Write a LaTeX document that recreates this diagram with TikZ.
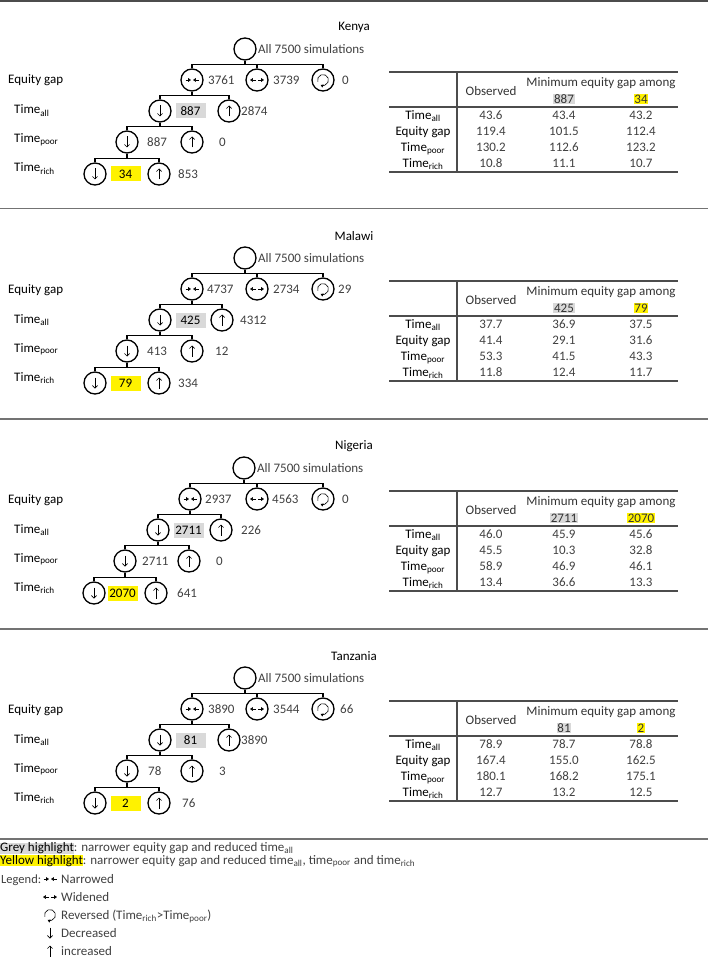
\documentclass[tikz,border=0pt]{standalone}
\usepackage{fontspec}
\setmainfont{Carlito}
\usepackage{xcolor}
\usepackage{tikz}
\usetikzlibrary{arrows.meta, calc, positioning}

\newcommand{\tall}{Time\textsubscript{all}}
\newcommand{\tpoor}{Time\textsubscript{poor}}
\newcommand{\trich}{Time\textsubscript{rich}}
\newcommand{\hlbox}[2]{{\setlength{\fboxsep}{0pt}\colorbox{#1}{#2}}}

\tikzset{
  sim/.style={circle, draw, line width=1.3pt, minimum size=22pt, inner sep=0pt},
  dec/.style={sim, path picture={\draw[line width=0.55pt, -{Straight Barb[length=2.6pt, width=5.2pt]}] ([yshift=5.5pt]path picture bounding box.center) -- ([yshift=-5.5pt]path picture bounding box.center);}},
  inc/.style={sim, path picture={\draw[line width=0.55pt, -{Straight Barb[length=2.6pt, width=5.2pt]}] ([yshift=-5.5pt]path picture bounding box.center) -- ([yshift=5.5pt]path picture bounding box.center);}},
  nar/.style={sim, path picture={
    \draw[line width=0.55pt, -{Triangle[length=2.8pt, width=3.6pt]}] ([xshift=-6.5pt]path picture bounding box.center) -- ([xshift=-1pt]path picture bounding box.center);
    \draw[line width=0.55pt, -{Triangle[length=2.8pt, width=3.6pt]}] ([xshift=6.5pt]path picture bounding box.center) -- ([xshift=1pt]path picture bounding box.center);}},
  wid/.style={sim, path picture={
    \draw[line width=0.55pt, -{Triangle[length=2.8pt, width=3.6pt]}] ([xshift=-1pt]path picture bounding box.center) -- ([xshift=-7pt]path picture bounding box.center);
    \draw[line width=0.55pt, -{Triangle[length=2.8pt, width=3.6pt]}] ([xshift=1pt]path picture bounding box.center) -- ([xshift=7pt]path picture bounding box.center);}},
  rev/.style={sim, path picture={\draw[line width=0.6pt, -{Triangle[length=2.6pt, width=3.2pt]}] ([shift={(200:5.5pt)}]path picture bounding box.center) arc[start angle=200, end angle=-115, radius=5.5pt];}},
  edgeline/.style={line width=1.3pt},
  num/.style={anchor=west, inner sep=0pt, text=black!75},
  greybox/.style={fill=gray!30, minimum width=30pt, minimum height=15pt, inner sep=0pt},
  yellowbox/.style={fill=yellow, minimum width=30pt, minimum height=15pt, inner sep=0pt},
  rowlab/.style={anchor=base west, inner sep=0pt},
  cname/.style={inner sep=0pt},
  tabrule/.style={line width=1.1pt, black!70},
  thead/.style={anchor=base, inner sep=0.8pt, text=black!80},
  tcell/.style={anchor=base, inner sep=0pt, text=black!75},
  sepline/.style={line width=1.4pt, black!55},
  legtext/.style={anchor=base west, inner sep=0pt, text=black!75}
}

\begin{document}
\begin{tikzpicture}[x=1pt, y=-1pt, font=\fontsize{13pt}{15.6pt}\selectfont]
  \useasboundingbox (0,0) rectangle (708,957);
  \draw[sepline, line width=2pt, black!70] (0,1) -- (708,1);
  \draw[sepline] (0,208.5) -- (708,208.5);
  \draw[sepline] (0,419) -- (708,419);
  \draw[sepline] (0,629) -- (708,629);
  \draw[sepline] (0,839) -- (708,839);

  % Kenya
  \begin{scope}[shift={(0,0)}]
    \node[cname] (k-name) at (354,27) {Kenya};
    \node[sim] (k-root) at (245,49) {};
    \node[num] (k-root-n) at (258,49) {All 7500 simulations};
    \node[nar] (k-nar) at (192,80) {};        \node[num] (k-nar-n) at (208,80) {3761};
    \node[wid] (k-wid) at (257,80) {};        \node[num] (k-wid-n) at (273,80) {3739};
    \node[rev] (k-rev) at (323,80) {};        \node[num] (k-rev-n) at (342,80) {0};
    \node[dec] (k-all-dec) at (160,111) {};   \node[greybox] (k-all-dec-n) at (190.5,111) {887};
    \node[inc] (k-all-inc) at (229,111) {};   \node[num] (k-all-inc-n) at (241,111) {2874};
    \node[dec] (k-poor-dec) at (127,142) {};  \node[num] (k-poor-dec-n) at (147,142) {887};
    \node[inc] (k-poor-inc) at (192,142) {};  \node[num] (k-poor-inc-n) at (219,142) {0};
    \node[dec] (k-rich-dec) at (95,174) {};   \node[yellowbox] (k-rich-dec-n) at (125.5,174) {34};
    \node[inc] (k-rich-inc) at (159,174) {};  \node[num] (k-rich-inc-n) at (178,174) {853};
    \foreach \c in {k-nar, k-wid, k-rev} \draw[edgeline] (\c.north) -- ++(0,-4) -| (k-root.south);
    \foreach \c in {k-all-dec, k-all-inc} \draw[edgeline] (\c.north) -- ++(0,-4) -| (k-nar.south);
    \foreach \c in {k-poor-dec, k-poor-inc} \draw[edgeline] (\c.north) -- ++(0,-4) -| (k-all-dec.south);
    \foreach \c in {k-rich-dec, k-rich-inc} \draw[edgeline] (\c.north) -- ++(0,-4) -| (k-poor-dec.south);
    \node[rowlab] (k-lab1) at (8,84) {Equity gap};
    \node[rowlab] (k-lab2) at (14,114) {\tall};
    \node[rowlab] (k-lab3) at (14,143) {\tpoor};
    \node[rowlab] (k-lab4) at (14,172) {\trich};
    \draw[tabrule] (389,72) -- (678,72) (389,107) -- (678,107) (389,172) -- (678,172) (457,72) -- (457,172);
    \node[thead] (k-h1) at (601,86.5) {Minimum equity gap among};
    \node[thead] (k-h2) at (491,95.5) {Observed};
    \node[thead, fill=gray!30] (k-h3) at (564,103.5) {887};
    \node[thead, fill=yellow] (k-h4) at (641,103.5) {34};
    \foreach \lab/\a/\b/\c [count=\i] in {\tall/43.6/43.4/43.2, Equity gap/119.4/101.5/112.4, \tpoor/130.2/112.6/123.2, \trich/10.8/11.1/10.7} {
      \node[tcell, text=black] (k-r\i) at (423,103.5+16*\i) {\lab};
      \node[tcell] (k-r\i-a) at (491,103.5+16*\i) {\a};
      \node[tcell] (k-r\i-b) at (564,103.5+16*\i) {\b};
      \node[tcell] (k-r\i-c) at (641,103.5+16*\i) {\c};
    }
  \end{scope}

  % Malawi
  \begin{scope}[shift={(0,209)}]
    \node[cname] (m-name) at (354,27) {Malawi};
    \node[sim] (m-root) at (245,49) {};
    \node[num] (m-root-n) at (258,49) {All 7500 simulations};
    \node[nar] (m-nar) at (192,80) {};        \node[num] (m-nar-n) at (207,80) {4737};
    \node[wid] (m-wid) at (257,80) {};        \node[num] (m-wid-n) at (273,80) {2734};
    \node[rev] (m-rev) at (323,80) {};        \node[num] (m-rev-n) at (338,80) {29};
    \node[dec] (m-all-dec) at (160,111) {};   \node[greybox] (m-all-dec-n) at (190.5,111) {425};
    \node[inc] (m-all-inc) at (222,111) {};   \node[num] (m-all-inc-n) at (240,111) {4312};
    \node[dec] (m-poor-dec) at (127,142) {};  \node[num] (m-poor-dec-n) at (147,142) {413};
    \node[inc] (m-poor-inc) at (192,142) {};  \node[num] (m-poor-inc-n) at (215,142) {12};
    \node[dec] (m-rich-dec) at (95,174) {};   \node[yellowbox] (m-rich-dec-n) at (125.5,174) {79};
    \node[inc] (m-rich-inc) at (159,174) {};  \node[num] (m-rich-inc-n) at (178,174) {334};
    \foreach \c in {m-nar, m-wid, m-rev} \draw[edgeline] (\c.north) -- ++(0,-4) -| (m-root.south);
    \foreach \c in {m-all-dec, m-all-inc} \draw[edgeline] (\c.north) -- ++(0,-4) -| (m-nar.south);
    \foreach \c in {m-poor-dec, m-poor-inc} \draw[edgeline] (\c.north) -- ++(0,-4) -| (m-all-dec.south);
    \foreach \c in {m-rich-dec, m-rich-inc} \draw[edgeline] (\c.north) -- ++(0,-4) -| (m-poor-dec.south);
    \node[rowlab] (m-lab1) at (8,84) {Equity gap};
    \node[rowlab] (m-lab2) at (14,114) {\tall};
    \node[rowlab] (m-lab3) at (14,143) {\tpoor};
    \node[rowlab] (m-lab4) at (14,172) {\trich};
    \draw[tabrule] (389,72) -- (678,72) (389,107) -- (678,107) (389,172) -- (678,172) (457,72) -- (457,172);
    \node[thead] (m-h1) at (601,86.5) {Minimum equity gap among};
    \node[thead] (m-h2) at (491,95.5) {Observed};
    \node[thead, fill=gray!30] (m-h3) at (564,103.5) {425};
    \node[thead, fill=yellow] (m-h4) at (641,103.5) {79};
    \foreach \lab/\a/\b/\c [count=\i] in {\tall/37.7/36.9/37.5, Equity gap/41.4/29.1/31.6, \tpoor/53.3/41.5/43.3, \trich/11.8/12.4/11.7} {
      \node[tcell, text=black] (m-r\i) at (423,103.5+16*\i) {\lab};
      \node[tcell] (m-r\i-a) at (491,103.5+16*\i) {\a};
      \node[tcell] (m-r\i-b) at (564,103.5+16*\i) {\b};
      \node[tcell] (m-r\i-c) at (641,103.5+16*\i) {\c};
    }
  \end{scope}

  % Nigeria
  \begin{scope}[shift={(0,419)}]
    \node[cname] (n-name) at (354,27) {Nigeria};
    \node[sim] (n-root) at (244,49) {};
    \node[num] (n-root-n) at (257,49) {All 7500 simulations};
    \node[nar] (n-nar) at (190,80) {};        \node[num] (n-nar-n) at (205,80) {2937};
    \node[wid] (n-wid) at (257,80) {};        \node[num] (n-wid-n) at (272,80) {4563};
    \node[rev] (n-rev) at (323,80) {};        \node[num] (n-rev-n) at (342,80) {0};
    \node[dec] (n-all-dec) at (158,111) {};   \node[greybox] (n-all-dec-n) at (188.5,111) {2711};
    \node[inc] (n-all-inc) at (221,111) {};   \node[num] (n-all-inc-n) at (241,111) {226};
    \node[dec] (n-poor-dec) at (125,142) {};  \node[num] (n-poor-dec-n) at (142,142) {2711};
    \node[inc] (n-poor-inc) at (189,142) {};  \node[num] (n-poor-inc-n) at (216,142) {0};
    \node[dec] (n-rich-dec) at (94,174) {};   \node[yellowbox] (n-rich-dec-n) at (122.5,174) {2070};
    \node[inc] (n-rich-inc) at (156,174) {};  \node[num] (n-rich-inc-n) at (177,174) {641};
    \foreach \c in {n-nar, n-wid, n-rev} \draw[edgeline] (\c.north) -- ++(0,-4) -| (n-root.south);
    \foreach \c in {n-all-dec, n-all-inc} \draw[edgeline] (\c.north) -- ++(0,-4) -| (n-nar.south);
    \foreach \c in {n-poor-dec, n-poor-inc} \draw[edgeline] (\c.north) -- ++(0,-4) -| (n-all-dec.south);
    \foreach \c in {n-rich-dec, n-rich-inc} \draw[edgeline] (\c.north) -- ++(0,-4) -| (n-poor-dec.south);
    \node[rowlab] (n-lab1) at (8,84) {Equity gap};
    \node[rowlab] (n-lab2) at (14,114) {\tall};
    \node[rowlab] (n-lab3) at (14,143) {\tpoor};
    \node[rowlab] (n-lab4) at (14,172) {\trich};
    \draw[tabrule] (389,72) -- (678,72) (389,107) -- (678,107) (389,172) -- (678,172) (457,72) -- (457,172);
    \node[thead] (n-h1) at (601,86.5) {Minimum equity gap among};
    \node[thead] (n-h2) at (491,95.5) {Observed};
    \node[thead, fill=gray!30] (n-h3) at (564,103.5) {2711};
    \node[thead, fill=yellow] (n-h4) at (641,103.5) {2070};
    \foreach \lab/\a/\b/\c [count=\i] in {\tall/46.0/45.9/45.6, Equity gap/45.5/10.3/32.8, \tpoor/58.9/46.9/46.1, \trich/13.4/36.6/13.3} {
      \node[tcell, text=black] (n-r\i) at (423,103.5+16*\i) {\lab};
      \node[tcell] (n-r\i-a) at (491,103.5+16*\i) {\a};
      \node[tcell] (n-r\i-b) at (564,103.5+16*\i) {\b};
      \node[tcell] (n-r\i-c) at (641,103.5+16*\i) {\c};
    }
  \end{scope}

  % Tanzania
  \begin{scope}[shift={(0,629)}]
    \node[cname] (t-name) at (354,27) {Tanzania};
    \node[sim] (t-root) at (245,49) {};
    \node[num] (t-root-n) at (258,49) {All 7500 simulations};
    \node[nar] (t-nar) at (192,80) {};        \node[num] (t-nar-n) at (208,80) {3890};
    \node[wid] (t-wid) at (257,80) {};        \node[num] (t-wid-n) at (273,80) {3544};
    \node[rev] (t-rev) at (323,80) {};        \node[num] (t-rev-n) at (340,80) {66};
    \node[dec] (t-all-dec) at (160,111) {};   \node[greybox] (t-all-dec-n) at (190.5,111) {81};
    \node[inc] (t-all-inc) at (229,111) {};   \node[num] (t-all-inc-n) at (241,111) {3890};
    \node[dec] (t-poor-dec) at (127,142) {};  \node[num] (t-poor-dec-n) at (148,142) {78};
    \node[inc] (t-poor-inc) at (192,142) {};  \node[num] (t-poor-inc-n) at (219,142) {3};
    \node[dec] (t-rich-dec) at (95,174) {};   \node[yellowbox] (t-rich-dec-n) at (125.5,174) {2};
    \node[inc] (t-rich-inc) at (159,174) {};  \node[num] (t-rich-inc-n) at (182,174) {76};
    \foreach \c in {t-nar, t-wid, t-rev} \draw[edgeline] (\c.north) -- ++(0,-4) -| (t-root.south);
    \foreach \c in {t-all-dec, t-all-inc} \draw[edgeline] (\c.north) -- ++(0,-4) -| (t-nar.south);
    \foreach \c in {t-poor-dec, t-poor-inc} \draw[edgeline] (\c.north) -- ++(0,-4) -| (t-all-dec.south);
    \foreach \c in {t-rich-dec, t-rich-inc} \draw[edgeline] (\c.north) -- ++(0,-4) -| (t-poor-dec.south);
    \node[rowlab] (t-lab1) at (8,84) {Equity gap};
    \node[rowlab] (t-lab2) at (14,114) {\tall};
    \node[rowlab] (t-lab3) at (14,143) {\tpoor};
    \node[rowlab] (t-lab4) at (14,172) {\trich};
    \draw[tabrule] (389,72) -- (678,72) (389,107) -- (678,107) (389,172) -- (678,172) (457,72) -- (457,172);
    \node[thead] (t-h1) at (601,86.5) {Minimum equity gap among};
    \node[thead] (t-h2) at (491,95.5) {Observed};
    \node[thead, fill=gray!30] (t-h3) at (564,103.5) {81};
    \node[thead, fill=yellow] (t-h4) at (641,103.5) {2};
    \foreach \lab/\a/\b/\c [count=\i] in {\tall/78.9/78.7/78.8, Equity gap/167.4/155.0/162.5, \tpoor/180.1/168.2/175.1, \trich/12.7/13.2/12.5} {
      \node[tcell, text=black] (t-r\i) at (423,103.5+16*\i) {\lab};
      \node[tcell] (t-r\i-a) at (491,103.5+16*\i) {\a};
      \node[tcell] (t-r\i-b) at (564,103.5+16*\i) {\b};
      \node[tcell] (t-r\i-c) at (641,103.5+16*\i) {\c};
    }
  \end{scope}

  % notes and legend
  \node[anchor=base west, inner sep=0pt] (note-grey) at (0,851.6) {\hlbox{gray!30}{Grey highlight}\textcolor{black!75}{: narrower equity gap and reduced time\textsubscript{all}}};
  \node[anchor=base west, inner sep=0pt] (note-yellow) at (0,864) {\hlbox{yellow}{Yellow highlight}\textcolor{black!75}{: narrower equity gap and reduced time\textsubscript{all}, time\textsubscript{poor} and time\textsubscript{rich}}};
  \node[legtext, font=\fontsize{12.5pt}{15pt}\selectfont] (leg-title) at (1,883.5) {Legend:};
  \node[nar, draw=none] (leg-nar) at (50,879) {};  \node[legtext] (leg-nar-t) at (61,883.5) {Narrowed};
  \node[wid, draw=none] (leg-wid) at (50,897) {};  \node[legtext] (leg-wid-t) at (61,901.5) {Widened};
  \node[rev, draw=none] (leg-rev) at (50,915) {};  \node[legtext] (leg-rev-t) at (61,919.5) {Reversed (Time\textsubscript{rich}>Time\textsubscript{poor})};
  \node[dec, draw=none] (leg-dec) at (50,933) {};  \node[legtext] (leg-dec-t) at (61,937.5) {Decreased};
  \node[inc, draw=none] (leg-inc) at (50,951) {};  \node[legtext] (leg-inc-t) at (61,955.5) {increased};
\end{tikzpicture}
\end{document}
